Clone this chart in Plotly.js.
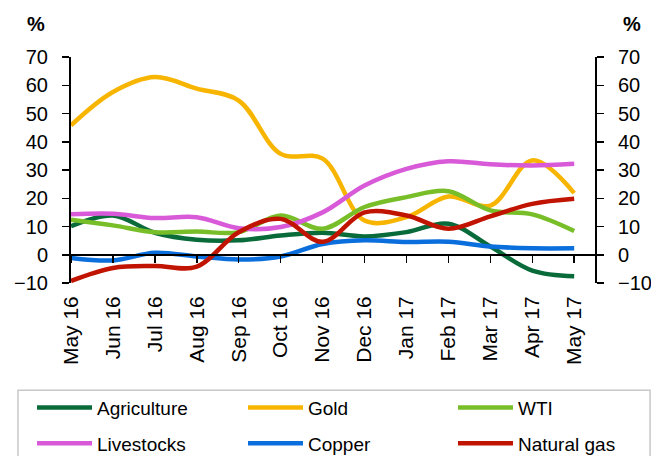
<!DOCTYPE html>
<html>
<head>
<meta charset="utf-8">
<script src="https://cdn.plot.ly/plotly-3.0.1.min.js"></script>
<style>html,body{margin:0;padding:0;background:#fff;}#chart{width:651px;height:456px;}</style>
</head>
<body>
<div id="chart"></div>
<script>
const months = ["May 16","Jun 16","Jul 16","Aug 16","Sep 16","Oct 16","Nov 16","Dec 16","Jan 17","Feb 17","Mar 17","Apr 17","May 17"];
const agriculture = [10.1, 13.9, 7.8, 5.3, 5.1, 6.8, 7.8, 6.5, 8.0, 11.0, 2.9, -5.6, -7.6];
const gold        = [45.8, 57.6, 62.9, 58.8, 54.6, 35.7, 34.0, 12.1, 13.3, 20.6, 17.4, 33.4, 21.8];
const wti         = [12.4, 10.4, 8.0, 8.2, 8.0, 13.9, 9.2, 16.9, 20.4, 22.5, 15.7, 14.3, 8.4];
const livestocks  = [14.3, 14.5, 13.0, 13.3, 9.4, 9.8, 15.0, 24.5, 30.4, 33.1, 32.0, 31.6, 32.2];
const copper      = [-1.1, -2.0, 0.7, -0.6, -1.7, -0.6, 3.8, 5.1, 4.5, 4.6, 2.9, 2.3, 2.3];
const naturalGas  = [-9.3, -4.7, -4.0, -4.2, 8.0, 12.7, 4.6, 15.0, 13.9, 9.2, 13.6, 18.0, 19.8];
const seriesNames = ["Agriculture","Gold","WTI","Livestocks","Copper","Natural gas"];
const yTicks = [-10, 0, 10, 20, 30, 40, 50, 60, 70];

const colors = ["#0a6b3a", "#f7b500", "#78be28", "#d85ad8", "#0a6edc", "#c01400"];
const legendOf = ["legend", "legend2", "legend3", "legend", "legend2", "legend3"];
const data = [agriculture, gold, wti, livestocks, copper, naturalGas];

const traces = data.map((vals, i) => ({
  type: "scatter",
  mode: "lines",
  name: seriesNames[i],
  x: months,
  y: vals,
  xaxis: i === 5 ? "x2" : "x",
  yaxis: i === 5 ? "y2" : "y",
  line: {color: colors[i], width: 4.5, shape: "spline", smoothing: 1},
  legend: legendOf[i],
  legendgroup: "g" + i,
  hoverinfo: "skip"
}));

const font = {family: "Liberation Sans, Arial, sans-serif", color: "#000"};
const xr = [0, 12.52];
const legendCommon = {
  orientation: "v", yanchor: "top", xanchor: "left", y: -0.468,
  bgcolor: "rgba(0,0,0,0)", borderwidth: 0, itemwidth: 55,
  traceorder: "grouped", tracegroupgap: 8,
  font: Object.assign({}, font, {size: 19}),
  itemclick: false, itemdoubleclick: false
};

const layout = {
  width: 651, height: 456,
  margin: {l: 71, r: 55, t: 57, b: 173, autoexpand: false},
  paper_bgcolor: "#fff", plot_bgcolor: "#fff",
  font: font,
  showlegend: true,
  xaxis: {
    type: "category", range: xr, showline: false, showgrid: false, zeroline: false,
    ticks: "", tickangle: -90, tickfont: Object.assign({}, font, {size: 21}),
    ticklabelstandoff: 8, fixedrange: true
  },
  xaxis2: {
    type: "category", overlaying: "x", anchor: "free", position: 0.125, range: xr,
    showline: true, linecolor: "#000", linewidth: 2, showgrid: false, zeroline: false,
    ticks: "outside", ticklen: 7, tickwidth: 1.5, tickcolor: "#000",
    showticklabels: false, fixedrange: true
  },
  yaxis: {
    range: [-10, 70], tickvals: yTicks, showline: true, linecolor: "#000", linewidth: 2,
    showgrid: false, zeroline: false, ticks: "outside", ticklen: 7, tickwidth: 1.5, tickcolor: "#000",
    tickfont: Object.assign({}, font, {size: 20}), ticklabelstandoff: 10, fixedrange: true
  },
  yaxis2: {
    range: [-10, 70], tickvals: yTicks, overlaying: "y", side: "right", anchor: "free", position: 1,
    showline: true, linecolor: "#000", linewidth: 2, showgrid: false, zeroline: false,
    ticks: "outside", ticklen: 7, tickwidth: 1.5, tickcolor: "#000",
    tickfont: Object.assign({}, font, {size: 20}), ticklabelstandoff: 10, fixedrange: true
  },
  legend: Object.assign({}, legendCommon, {x: -0.0743}),
  legend2: Object.assign({}, legendCommon, {x: 0.3276}),
  legend3: Object.assign({}, legendCommon, {x: 0.7276}),
  shapes: [{
    type: "rect", xref: "paper", yref: "paper",
    x0: -0.101, x1: 1.103, y0: -0.8, y1: -0.475,
    line: {color: "#c8c8c8", width: 1.5}, fillcolor: "rgba(0,0,0,0)", layer: "below"
  }],
  annotations: [
    {text: "<b>%</b>", xref: "paper", yref: "paper", x: -0.0667, y: 1.145, showarrow: false,
     font: Object.assign({}, font, {size: 20}), xanchor: "center", yanchor: "middle"},
    {text: "<b>%</b>", xref: "paper", yref: "paper", x: 1.0686, y: 1.145, showarrow: false,
     font: Object.assign({}, font, {size: 20}), xanchor: "center", yanchor: "middle"}
  ]
};

Plotly.newPlot("chart", traces, layout, {displayModeBar: false, staticPlot: true});
</script>
</body>
</html>
